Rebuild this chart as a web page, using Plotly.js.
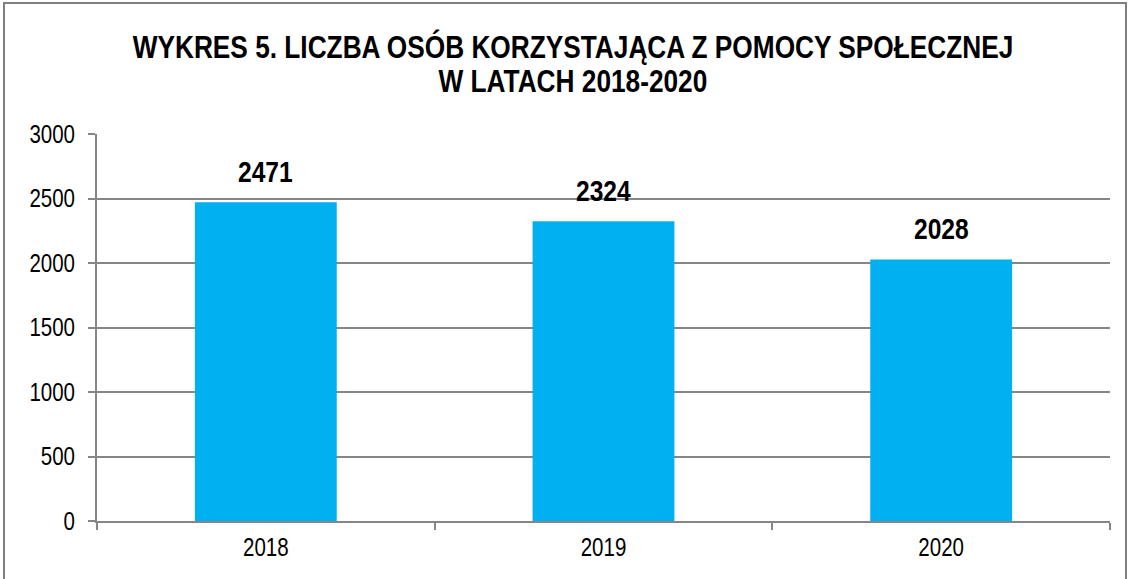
<!DOCTYPE html>
<html>
<head>
<meta charset="utf-8">
<script src="https://cdn.plot.ly/plotly-3.0.1.min.js"></script>
<style>
html,body{margin:0;padding:0;background:#fff;overflow:hidden;}
#frame{position:absolute;left:3px;top:2px;width:1124px;height:600px;border:2px solid #7f7f7f;box-sizing:border-box;pointer-events:none;}
#chart{position:absolute;left:0;top:0;width:1132px;height:579px;}
</style>
</head>
<body>
<div id="chart"></div>
<div id="frame"></div>
<script>
const titleLines = ['WYKRES 5. LICZBA OSÓB KORZYSTAJĄCA Z POMOCY SPOŁECZNEJ', 'W LATACH 2018-2020'];
const years = ['2018', '2019', '2020'];
const persons = [2471, 2324, 2028];
const yTicks = [0, 500, 1000, 1500, 2000, 2500, 3000];

const font = '"Liberation Sans", Arial, sans-serif';

const trace = {
  type: 'bar',
  x: years,
  y: persons,
  marker: {color: '#00B0F0', line: {width: 0}},
  width: 0.42,
  hoverinfo: 'x+y'
};

// data labels, positioned by category index on the category axis
const labelAnnotations = years.map((yr, i) => ({
  x: i, y: persons[i], xref: 'x', yref: 'y',
  text: '<b>' + persons[i] + '</b>',
  showarrow: false, xanchor: 'center', yanchor: 'bottom', yshift: 12,
  font: {family: font, size: 30, color: '#000'}
}));

const layout = {
  width: 1132, height: 579,
  margin: {l: 97, r: 22, t: 134, b: 58},
  paper_bgcolor: '#fff', plot_bgcolor: '#fff',
  showlegend: false,
  title: {
    text: '<b>' + titleLines[0] + '</b>',
    font: {family: font, size: 32, color: '#000'},
    x: 573 / 1132, xanchor: 'center', xref: 'container', y: 1 - 47 / 579, yanchor: 'middle', yref: 'container'
  },
  annotations: [{
    xref: 'paper', yref: 'paper', x: (573 - 97) / 1013, y: (521 - 81) / 387, xanchor: 'center', yanchor: 'middle',
    text: '<b>' + titleLines[1] + '</b>', showarrow: false,
    font: {family: font, size: 32, color: '#000'}
  }].concat(labelAnnotations),
  xaxis: {
    type: 'category',
    range: [-0.5, 2.5],
    autorange: false,
    showline: true, linecolor: '#868686', linewidth: 2,
    ticks: 'outside', tickson: 'boundaries', ticklen: 7, tickcolor: '#868686', tickwidth: 2,
    tickfont: {family: font, size: 25, color: '#000'},
    tickangle: 0,
    ticklabelstandoff: 3,
    showgrid: false
  },
  yaxis: {
    range: [0, 3000],
    autorange: false,
    tickvals: yTicks,
    ticktext: yTicks.map(String),
    showline: true, linecolor: '#868686', linewidth: 2,
    ticks: 'outside', ticklen: 7, tickcolor: '#868686', tickwidth: 2,
    showgrid: true, gridcolor: '#868686', gridwidth: 2,
    zeroline: false,
    ticklabelstandoff: 8,
    tickfont: {family: font, size: 25, color: '#000'}
  },
  bargap: 0.58
};

function condense(gd) {
  const els = gd.querySelectorAll('.gtitle, .annotation-text, .xtick text, .ytick text');
  els.forEach(el => {
    const w = el.getComputedTextLength();
    if (w > 0) {
      el.setAttribute('textLength', (w * 0.82).toFixed(2));
      el.setAttribute('lengthAdjust', 'spacingAndGlyphs');
    }
  });
}

Plotly.newPlot('chart', [trace], layout, {displayModeBar: false, staticPlot: true})
  .then(gd => condense(gd));
</script>
</body>
</html>
